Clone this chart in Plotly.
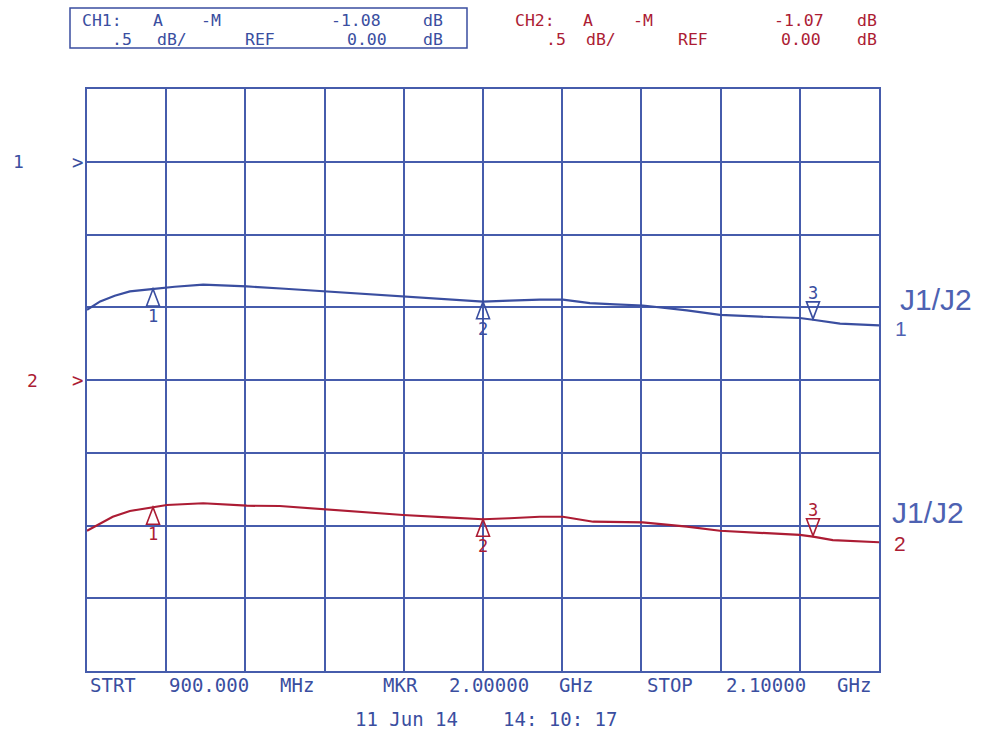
import plotly.graph_objects as go

# ---------------- data ----------------
ch1_freq_mhz = [900, 920, 942, 965, 998, 1033, 1076, 1142, 1200, 1258, 1318, 1379, 1439,
                1500, 1540, 1586, 1621, 1662, 1700, 1742, 1809, 1859, 1920, 1980, 2000,
                2041, 2100]
ch1_db = [-1.017, -0.960, -0.921, -0.891, -0.875, -0.859, -0.845, -0.857, -0.873, -0.891,
          -0.907, -0.926, -0.945, -0.962, -0.955, -0.948, -0.948, -0.971, -0.980, -0.988,
          -1.022, -1.052, -1.065, -1.074, -1.086, -1.113, -1.125]

ch2_freq_mhz = [900, 939, 965, 991, 1021, 1076, 1142, 1192, 1258, 1318, 1379, 1445, 1500,
                1540, 1586, 1621, 1667, 1742, 1809, 1859, 1920, 1980, 2000, 2030, 2100]
ch2_db = [-1.036, -0.940, -0.900, -0.882, -0.859, -0.847, -0.864, -0.866, -0.889, -0.905,
          -0.928, -0.944, -0.957, -0.950, -0.940, -0.940, -0.974, -0.978, -1.008, -1.036,
          -1.052, -1.065, -1.077, -1.100, -1.115]

marker_freq_mhz = [1000, 1500, 2000]
marker_labels = ["1", "2", "3"]
ch1_marker_db = [-0.875, -0.962, -1.08]
ch2_marker_db = [-0.875, -0.957, -1.07]

start_mhz, stop_mhz = 900, 2100
scale_db_per_div = 0.5
n_xdiv, n_ydiv = 10, 8
ch1_ref_div_from_top = 1
ch2_ref_div_from_top = 4

ch1_header = [["CH1:", "A", "-M", "-1.08", "dB"], [".5", "dB/", "REF", "0.00", "dB"]]
ch2_header = [["CH2:", "A", "-M", "-1.07", "dB"], [".5", "dB/", "REF", "0.00", "dB"]]
footer_tokens = ["STRT", "900.000", "MHz", "MKR", "2.00000", "GHz", "STOP", "2.10000", "GHz"]
date_tokens = ["11 Jun 14", "14: 10: 17"]

# ---------------- style ----------------
BLUE = "rgb(58,78,160)"
GRID = "rgb(70,92,172)"
RED = "rgb(172,28,52)"
LABEL_BLUE = "rgb(78,98,178)"
MONO = "DejaVu Sans Mono"

W, H = 985, 730
L, R, T, B = 87, 106, 89, 59
PW, PH = W - L - R, H - T - B


def px(x):
    return (x - L) / PW


def py(y):
    return (H - B - y) / PH


def note(text, x, y, xref="paper", yref="paper", size=18, color=BLUE, family=MONO, **kw):
    d = dict(x=x, y=y, xref=xref, yref=yref, text=text, showarrow=False,
             xanchor="center", yanchor="middle", borderpad=0,
             font=dict(family=family, size=size, color=color))
    d.update(kw)
    return d


fig = go.Figure()
fig.add_trace(go.Scatter(x=ch1_freq_mhz, y=ch1_db, mode="lines",
                         line=dict(color=BLUE, width=2.2), yaxis="y", showlegend=False))
fig.add_trace(go.Scatter(x=ch2_freq_mhz, y=ch2_db, mode="lines",
                         line=dict(color=RED, width=2.2), yaxis="y2", showlegend=False))

ch1_top = ch1_ref_div_from_top * scale_db_per_div
ch2_top = ch2_ref_div_from_top * scale_db_per_div
span = n_ydiv * scale_db_per_div

shapes = []
annotations = []

# marker triangles and numbers
for chan_ref, vals, col in (("y", ch1_marker_db, BLUE), ("y2", ch2_marker_db, RED)):
    for f, v, lab in zip(marker_freq_mhz, vals, marker_labels):
        if lab != "3":
            path = "M -6.5,-17 L 0,0 L 6.5,-17 Z"
            ys = -27
        else:
            path = "M -6.5,17 L 0,0 L 6.5,17 Z"
            ys = 26
        shapes.append(dict(type="path", xref="x", yref=chan_ref, xsizemode="pixel",
                           ysizemode="pixel", xanchor=f, yanchor=v, path=path,
                           line=dict(color=col, width=1.6), fillcolor="rgba(0,0,0,0)"))
        annotations.append(note(lab, f, v, xref="x", yref=chan_ref, yshift=ys, size=17,
                                color=col))

# reference arrows ">" and channel numbers on the left
for chan_ref, num, col, nx in (("y", "1", BLUE, 18), ("y2", "2", RED, 32)):
    annotations.append(note(">", px(77), 0, yref=chan_ref, size=19, color=col))
    annotations.append(note(num, px(nx), 0, yref=chan_ref, size=18, color=col))

# header blocks
ch1_centers = [[102, 158, 211, 356, 433], [122, 172, 260, 367, 433]]
ch2_centers = [[535, 588, 643, 799, 867], [556, 601, 693, 801, 867]]
line_y = [20.5, 39.5]
for header, centers, col in ((ch1_header, ch1_centers, BLUE), (ch2_header, ch2_centers, RED)):
    for li in range(2):
        for tok, cx in zip(header[li], centers[li]):
            annotations.append(note(tok, px(cx), py(line_y[li]), size=16.5, color=col))
shapes.append(dict(type="rect", xref="paper", yref="paper", x0=px(70), x1=px(467),
                   y0=py(48), y1=py(8), line=dict(color=BLUE, width=1.5)))

# footer
footer_centers = [113, 209, 297, 400, 489, 576, 670, 766, 854]
for tok, cx in zip(footer_tokens, footer_centers):
    annotations.append(note(tok, px(cx), py(685), size=19))
for tok, cx in zip(date_tokens, [406, 560]):
    annotations.append(note(tok, px(cx), py(719), size=19))

# right-side trace labels
for (txt, cx, cy, size, col) in (("J1/J2", 936, 299, 30, LABEL_BLUE),
                                 ("1", 901, 328, 21, LABEL_BLUE),
                                 ("J1/J2", 928, 512, 30, LABEL_BLUE),
                                 ("2", 900, 543, 21, RED)):
    annotations.append(note(txt, px(cx), py(cy), size=size, color=col,
                            family="Liberation Sans"))

axis_common = dict(showticklabels=False, ticks="", zeroline=False)
fig.update_layout(
    width=W, height=H, autosize=False,
    margin=dict(l=L, r=R, t=T, b=B, pad=0),
    paper_bgcolor="white", plot_bgcolor="white",
    xaxis=dict(range=[start_mhz, stop_mhz], tick0=start_mhz,
               dtick=(stop_mhz - start_mhz) / n_xdiv, showgrid=True, gridcolor=GRID,
               gridwidth=1.5, showline=True, linecolor=GRID, linewidth=1.8, mirror=True,
               **axis_common),
    yaxis=dict(range=[ch1_top - span, ch1_top], tick0=0, dtick=scale_db_per_div,
               showgrid=True, gridcolor=GRID, gridwidth=1.5, showline=True, linecolor=GRID,
               linewidth=1.8, mirror=True, **axis_common),
    yaxis2=dict(range=[ch2_top - span, ch2_top], overlaying="y", showgrid=False,
                showline=False, **axis_common),
    shapes=shapes, annotations=annotations, showlegend=False,
)

fig.write_html("out.html", config={"displayModeBar": False},
               post_script="document.body.style.margin='0';")
